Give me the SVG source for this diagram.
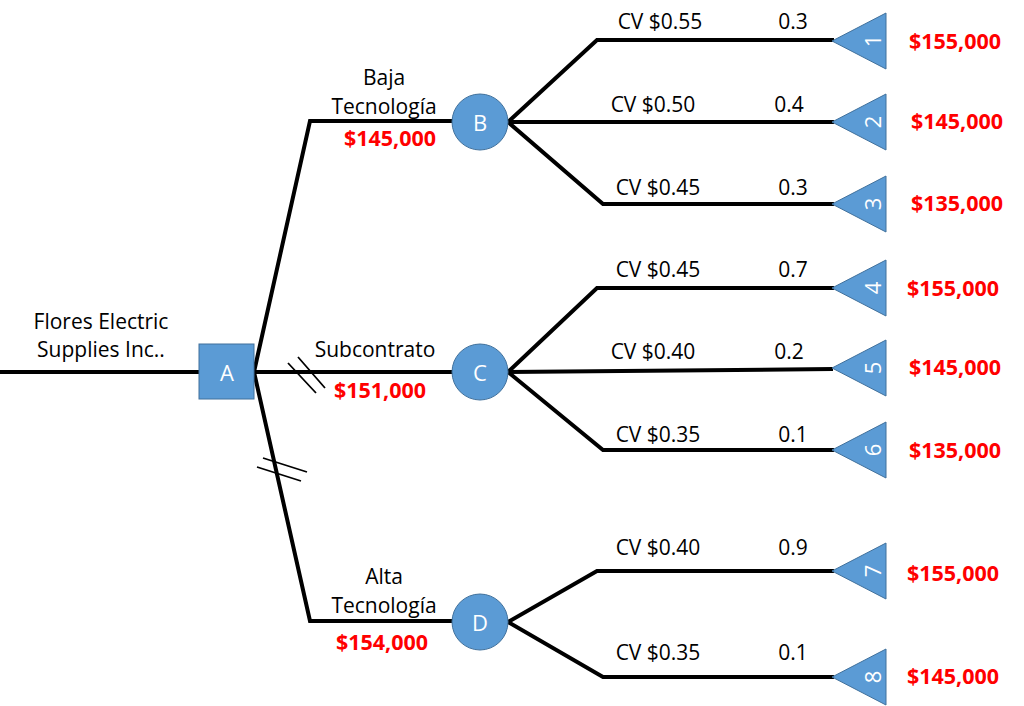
<svg xmlns="http://www.w3.org/2000/svg" width="1024" height="706" viewBox="0 0 1024 706">
<style>
.ln{fill:none;stroke:#000;stroke-width:4;stroke-linejoin:miter}
.hs{fill:none;stroke:#000;stroke-width:1.8}
.nd{fill:#5B9BD5;stroke:#41719C;stroke-width:1}
.nt{font-family:"Open Sans","Liberation Sans",sans-serif;font-size:22px;fill:#fff;text-anchor:middle;dominant-baseline:central}
.tt{font-family:"Open Sans","Liberation Sans",sans-serif;font-size:21px;fill:#000;text-anchor:middle}
.rv{font-family:"Open Sans","Liberation Sans",sans-serif;font-size:21.5px;font-weight:bold;fill:#FF0000;text-anchor:middle}
</style>
<rect width="1024" height="706" fill="#fff"/>
<g id="connectors">
<path class="ln" d="M0,372 H200"/>
<path class="ln" d="M254,372 L310,121 H453"/>
<path class="ln" d="M254,372 H453"/>
<path class="ln" d="M254,372 L310,621 H453"/>
<path class="ln" d="M508,122 L597,40 H834"/>
<path class="ln" d="M508,122 H834"/>
<path class="ln" d="M508,122 L603,204 H834"/>
<path class="ln" d="M508,372 L597,288 H834"/>
<path class="ln" d="M508,372 L833,369"/>
<path class="ln" d="M508,372 L603,450 H834"/>
<path class="ln" d="M508,622 L597,571 H834"/>
<path class="ln" d="M508,622 L603,677 H834"/>
<path class="hs" d="M288,363 L316,393 M298,357 L325,388"/>
<path class="hs" d="M263,458 L307,472 M257,467 L301,481"/>
</g>
<g id="A"><rect class="nd" x="199" y="344" width="55" height="55"/><text class="nt" x="227" y="372">A</text></g>
<g id="B"><circle class="nd" cx="480" cy="122" r="28"/><text class="nt" x="480" y="122">B</text></g>
<g id="C"><circle class="nd" cx="480" cy="372" r="28"/><text class="nt" x="480" y="372">C</text></g>
<g id="D"><circle class="nd" cx="480" cy="622" r="28"/><text class="nt" x="480" y="622">D</text></g>
<g id="T1"><polygon class="nd" points="832,41 886,13 886,69"/><text class="nt" transform="translate(872,41) rotate(-90)">1</text></g>
<g id="T2"><polygon class="nd" points="832,122 886,94 886,150"/><text class="nt" transform="translate(872,122) rotate(-90)">2</text></g>
<g id="T3"><polygon class="nd" points="832,204 886,176 886,232"/><text class="nt" transform="translate(872,204) rotate(-90)">3</text></g>
<g id="T4"><polygon class="nd" points="832,288 886,260 886,316"/><text class="nt" transform="translate(872,288) rotate(-90)">4</text></g>
<g id="T5"><polygon class="nd" points="832,368 886,340 886,396"/><text class="nt" transform="translate(872,368) rotate(-90)">5</text></g>
<g id="T6"><polygon class="nd" points="832,450 886,422 886,478"/><text class="nt" transform="translate(872,450) rotate(-90)">6</text></g>
<g id="T7"><polygon class="nd" points="832,571 886,543 886,599"/><text class="nt" transform="translate(872,571) rotate(-90)">7</text></g>
<g id="T8"><polygon class="nd" points="832,677 886,649 886,705"/><text class="nt" transform="translate(872,677) rotate(-90)">8</text></g>
<g id="labels">
<text class="tt" x="101" y="329">Flores Electric</text>
<text class="tt" x="101" y="357">Supplies Inc..</text>
<text class="tt" x="384" y="85">Baja</text>
<text class="tt" x="384" y="114">Tecnología</text>
<text class="rv" x="390" y="146">$145,000</text>
<text class="tt" x="375" y="357">Subcontrato</text>
<text class="rv" x="380" y="398">$151,000</text>
<text class="tt" x="384" y="584">Alta</text>
<text class="tt" x="384" y="613">Tecnología</text>
<text class="rv" x="382" y="650">$154,000</text>
<text class="tt" x="660" y="29">CV $0.55</text><text class="tt" x="793" y="29">0.3</text>
<text class="tt" x="653" y="112">CV $0.50</text><text class="tt" x="789" y="112">0.4</text>
<text class="tt" x="658" y="195">CV $0.45</text><text class="tt" x="793" y="195">0.3</text>
<text class="tt" x="658" y="277">CV $0.45</text><text class="tt" x="793" y="277">0.7</text>
<text class="tt" x="653" y="359">CV $0.40</text><text class="tt" x="789" y="359">0.2</text>
<text class="tt" x="658" y="442">CV $0.35</text><text class="tt" x="793" y="442">0.1</text>
<text class="tt" x="658" y="555">CV $0.40</text><text class="tt" x="793" y="555">0.9</text>
<text class="tt" x="658" y="660">CV $0.35</text><text class="tt" x="793" y="660">0.1</text>
<text class="rv" x="955" y="49">$155,000</text>
<text class="rv" x="957" y="129">$145,000</text>
<text class="rv" x="957" y="211">$135,000</text>
<text class="rv" x="953" y="296">$155,000</text>
<text class="rv" x="955" y="375">$145,000</text>
<text class="rv" x="955" y="458">$135,000</text>
<text class="rv" x="953" y="581">$155,000</text>
<text class="rv" x="953" y="684">$145,000</text>
</g>
</svg>
